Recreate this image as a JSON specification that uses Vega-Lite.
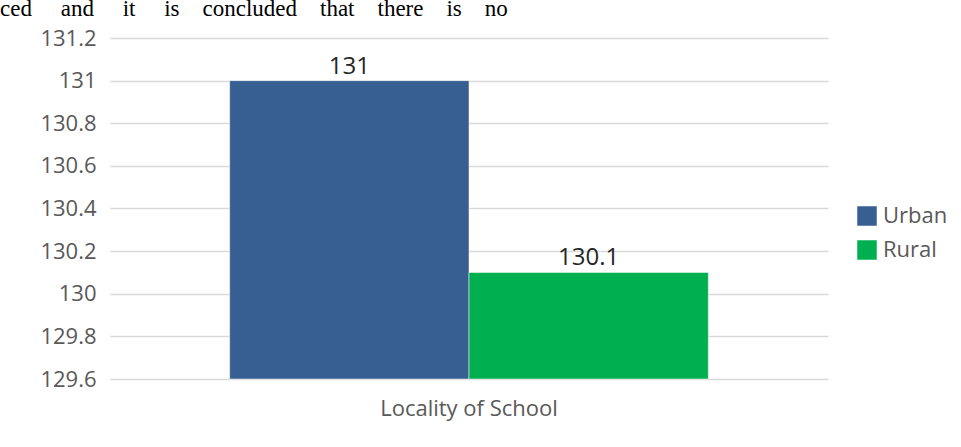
{
  "$schema": "https://vega.github.io/schema/vega-lite/v6.json",
  "autosize": {"type": "none"},
  "width": 718,
  "height": 341,
  "padding": {"left": 110, "top": 38, "right": 133, "bottom": 68},
  "background": "white",
  "title": {
    "text": "ced\u00a0\u00a0\u00a0\u00a0 and\u00a0\u00a0\u00a0\u00a0 it\u00a0\u00a0\u00a0\u00a0 is\u00a0\u00a0\u00a0 concluded\u00a0\u00a0\u00a0 that\u00a0\u00a0\u00a0 there\u00a0\u00a0\u00a0 is\u00a0\u00a0\u00a0 no",
    "anchor": "start",
    "frame": "group",
    "dx": -110,
    "dy": 25,
    "offset": 13,
    "baseline": "alphabetic",
    "font": "Liberation Serif",
    "fontSize": 23,
    "fontWeight": "normal",
    "color": "#000000"
  },
  "data": {
    "values": [
      {"group": "Locality of School", "locality": "Urban", "score": 131},
      {"group": "Locality of School", "locality": "Rural", "score": 130.1}
    ]
  },
  "encoding": {
    "x": {
      "field": "group",
      "type": "nominal",
      "scale": {"paddingInner": 0, "paddingOuter": 0.25},
      "axis": {
        "title": null,
        "labelAngle": 0,
        "labelFont": "Open Sans",
        "labelFontSize": 22,
        "labelColor": "#595959",
        "labelPadding": 19,
        "domain": false,
        "ticks": false
      }
    },
    "xOffset": {
      "field": "locality",
      "type": "nominal",
      "sort": ["Urban", "Rural"],
      "scale": {"paddingInner": 0, "paddingOuter": 0}
    }
  },
  "layer": [
    {
      "mark": {"type": "bar", "stroke": "white", "strokeWidth": 0.5},
      "encoding": {
        "y": {
          "field": "score",
          "type": "quantitative",
          "scale": {"domain": [129.6, 131.2], "zero": false, "nice": false},
          "axis": {
            "title": null,
            "values": [129.6, 129.8, 130, 130.2, 130.4, 130.6, 130.8, 131, 131.2],
            "format": "~f",
            "labelFont": "Open Sans",
            "labelFontSize": 22,
            "labelColor": "#595959",
            "labelPadding": 14,
            "domain": false,
            "ticks": false,
            "grid": true,
            "gridColor": "#d9d9d9",
            "gridWidth": 1.5
          }
        },
        "y2": {"datum": 129.6},
        "color": {
          "field": "locality",
          "type": "nominal",
          "sort": ["Urban", "Rural"],
          "scale": {"domain": ["Urban", "Rural"], "range": ["#375f91", "#00b050"]},
          "legend": {
            "title": null,
            "orient": "none",
            "legendX": 746,
            "legendY": 167,
            "symbolType": "square",
            "symbolSize": 380,
            "symbolStrokeWidth": 0,
            "labelFont": "Open Sans",
            "labelFontSize": 22,
            "labelColor": "#595959",
            "labelOffset": 5,
            "rowPadding": 12
          }
        }
      }
    },
    {
      "mark": {
        "type": "text",
        "baseline": "alphabetic",
        "dy": -7,
        "font": "Open Sans",
        "fontSize": 24,
        "color": "#262626"
      },
      "encoding": {
        "y": {"field": "score", "type": "quantitative"},
        "text": {"field": "score", "type": "quantitative"}
      }
    }
  ],
  "config": {"view": {"stroke": null}}
}
